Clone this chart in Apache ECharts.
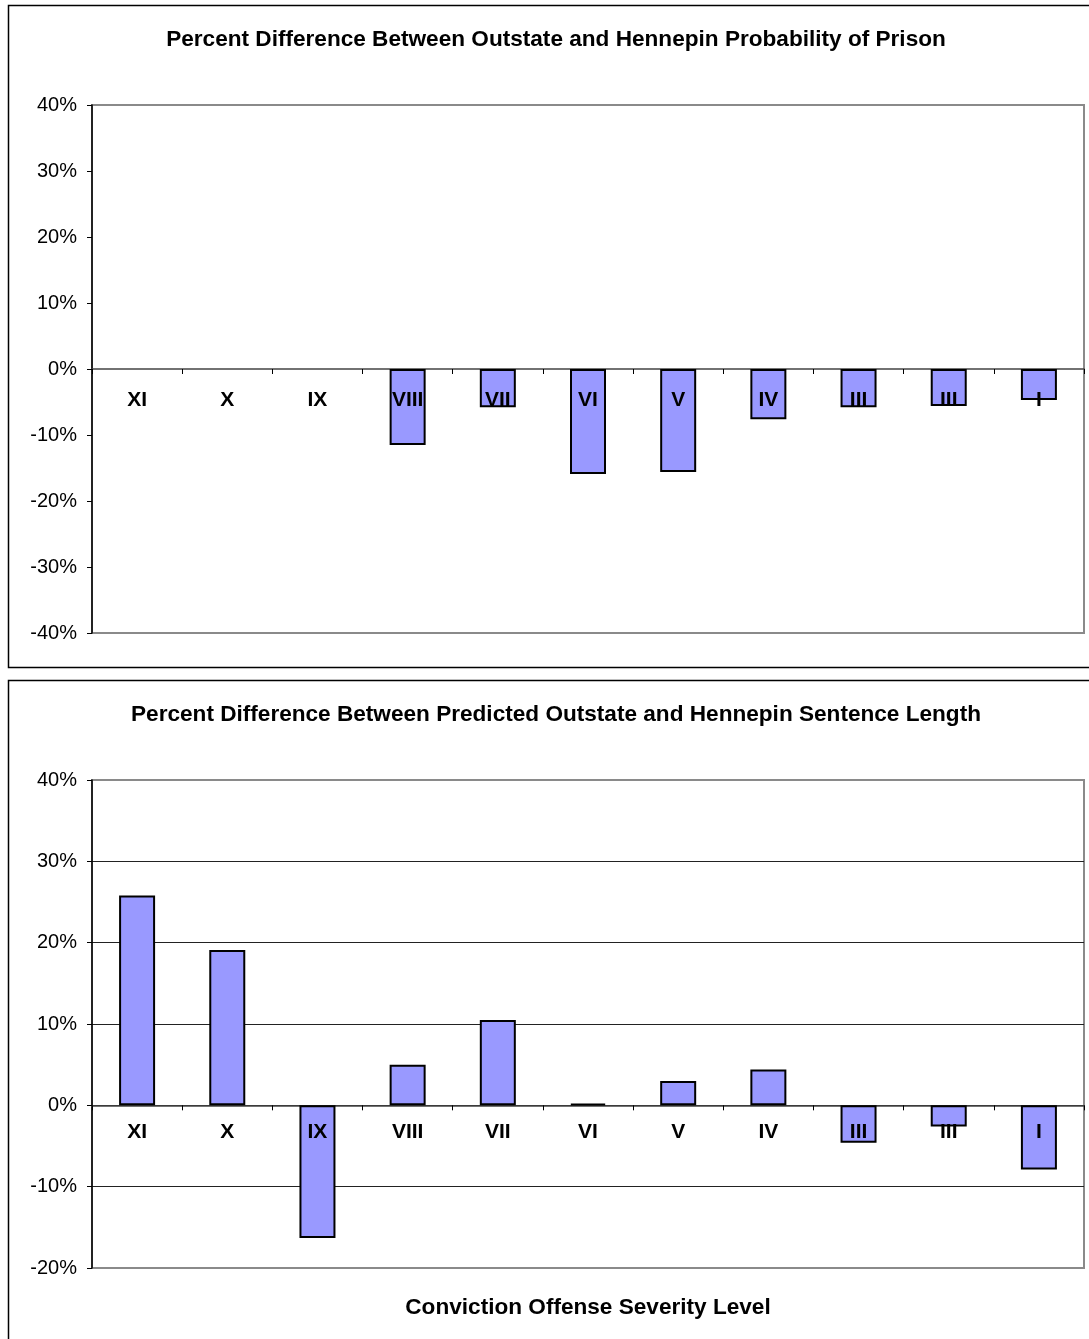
<!DOCTYPE html>
<html>
<head>
<meta charset="utf-8">
<script src="https://cdn.jsdelivr.net/npm/echarts@6/dist/echarts.min.js"></script>
<style>
  html, body { margin: 0; padding: 0; background: #fff; }
  #chart { width: 1089px; height: 1339px; }
</style>
</head>
<body>
<div id="chart"></div>
<script>
// Severity levels, highest to lowest
const levels = ['XI', 'X', 'IX', 'VIII', 'VII', 'VI', 'V', 'IV', 'III', 'III', 'I'];

// Percent difference, Outstate vs Hennepin: probability of prison
const prisonDiff = [null, null, null, -11.5, -5.8, -15.9, -15.6, -7.6, -5.8, -5.6, -4.7];

// Percent difference, predicted Outstate vs Hennepin sentence length
const lengthDiff = [25.8, 19.1, -16.3, 5.0, 10.5, 0.2, 3.0, 4.4, -4.6, -2.6, -7.9];

// Y-axis ranges
const prisonAxis = { min: -40, max: 40, step: 10 };
const lengthAxis = { min: -20, max: 40, step: 10 };

const titleTop = 'Percent Difference Between Outstate and Hennepin Probability of Prison';
const titleBottom = 'Percent Difference Between Predicted Outstate and Hennepin Sentence Length';
const xName = 'Conviction Offense Severity Level';

const FONT = '"Liberation Sans", Arial, sans-serif';
const barFill = '#9999FF';

function yAxisFor(gridIndex, range, gridlines) {
  const n = (range.max - range.min) / range.step + 1;
  const colors = [];
  for (let i = 0; i < n; i++) colors.push(i === 0 || i === n - 1 ? '#8a8a8a' : '#222');
  return {
    type: 'value', gridIndex,
    min: range.min, max: range.max, interval: range.step,
    axisLine: { show: true, lineStyle: { color: '#000', width: 1.5 } },
    axisTick: { show: true, length: 5, lineStyle: { color: '#000', width: 1 } },
    axisLabel: {
      formatter: '{value}%', color: '#000', fontFamily: FONT, fontSize: 20, margin: 15
    },
    splitLine: { show: gridlines, lineStyle: { color: colors, width: 1.2 } }
  };
}

function xAxisFor(gridIndex) {
  return {
    type: 'category', gridIndex, data: levels,
    axisLine: { show: true, onZero: true, lineStyle: { color: '#444', width: 1.5 } },
    axisTick: { show: true, length: 5, inside: false, lineStyle: { color: '#000', width: 1 } },
    axisLabel: { show: false }
  };
}

function barSeries(idx, data) {
  return {
    type: 'bar', xAxisIndex: idx, yAxisIndex: idx, data,
    barWidth: 36, z: 2,
    itemStyle: { color: barFill, borderColor: '#000', borderWidth: 2 },
    emphasis: { disabled: true },
    animation: false
  };
}

// Category names sit just below the zero line, drawn on top of the bars
function levelLabels(idx, offsetY) {
  return {
    type: 'scatter', xAxisIndex: idx, yAxisIndex: idx, z: 10,
    data: levels.map(() => 0),
    symbolSize: 1,
    itemStyle: { color: 'rgba(0,0,0,0)' },
    silent: true,
    label: {
      show: true, position: 'inside', offset: [0, offsetY],
      formatter: (p) => levels[p.dataIndex],
      color: '#000', fontFamily: FONT, fontSize: 21, fontWeight: 'bold', opacity: 1
    },
    emphasis: { disabled: true },
    animation: false
  };
}

const chart = echarts.init(document.getElementById('chart'), null, { renderer: 'canvas' });

const titleStyle = { fontFamily: FONT, fontSize: 22.6, fontWeight: 'bold', color: '#000' };

chart.setOption({
  backgroundColor: '#fff',
  animation: false,
  title: [
    { text: titleTop, left: 551, top: 23, textAlign: 'center', textStyle: titleStyle },
    { text: titleBottom, left: 551, top: 698, textAlign: 'center', textStyle: titleStyle },
    { text: xName, left: 583, top: 1291, textAlign: 'center', textStyle: titleStyle }
  ],
  grid: [
    { left: 92, top: 105, width: 992, height: 528, show: true,
      borderColor: '#8a8a8a', borderWidth: 2, backgroundColor: 'transparent' },
    { left: 92, top: 780, width: 992, height: 488, show: true,
      borderColor: '#8a8a8a', borderWidth: 2, backgroundColor: 'transparent' }
  ],
  xAxis: [xAxisFor(0), xAxisFor(1)],
  yAxis: [yAxisFor(0, prisonAxis, false), yAxisFor(1, lengthAxis, true)],
  series: [
    barSeries(0, prisonDiff), barSeries(1, lengthDiff),
    levelLabels(0, 31), levelLabels(1, 27)
  ],
  graphic: [
    { type: 'rect', shape: { x: 8.5, y: 5.5, width: 1100, height: 662 },
      style: { fill: 'none', stroke: '#000', lineWidth: 1.5 }, silent: true },
    { type: 'rect', shape: { x: 8.5, y: 680.5, width: 1100, height: 680 },
      style: { fill: 'none', stroke: '#000', lineWidth: 1.5 }, silent: true }
  ]
});
</script>
</body>
</html>
